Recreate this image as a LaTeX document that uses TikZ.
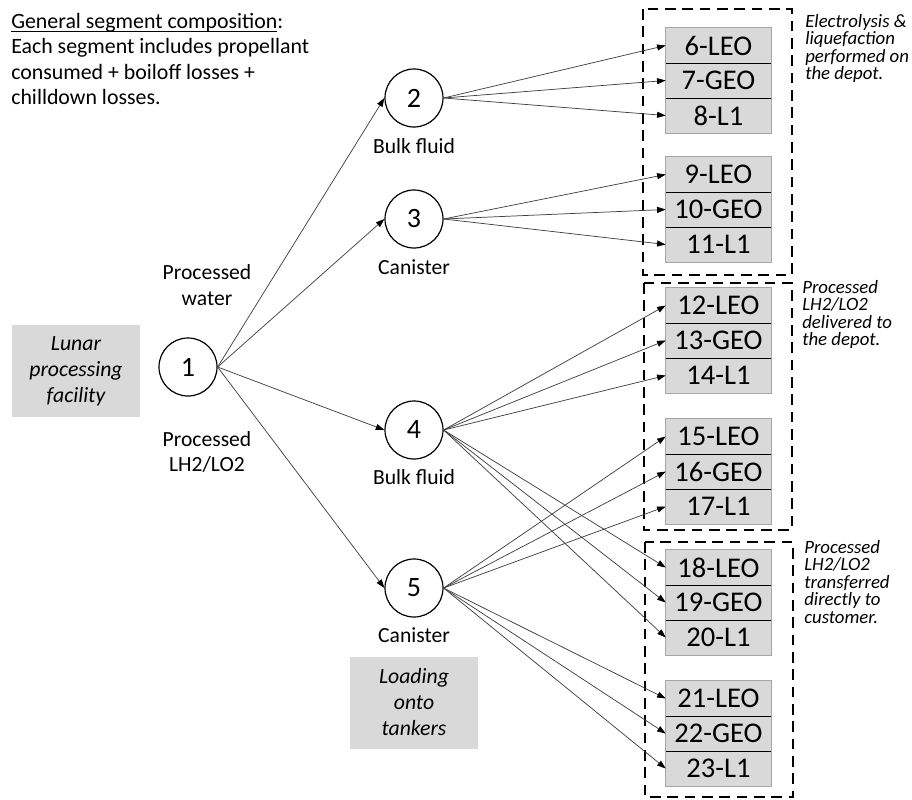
\documentclass[tikz,border=0pt]{standalone}
\usepackage{fontspec}
\setmainfont{Carlito}
\usepackage{tikz}
\usetikzlibrary{arrows.meta, positioning}

\definecolor{boxgray}{HTML}{D9D9D9}
\definecolor{segedge}{HTML}{A6A6A6}
\definecolor{flowgray}{HTML}{404040}

% underline close to the baseline
\newcommand{\segul}[1]{\setbox0\hbox{#1}\rlap{\vrule height -1.6pt depth 2.4pt width \wd0}\box0}

\begin{document}
\begin{tikzpicture}[x=0.75pt, y=-0.75pt,
  stage/.style={circle, draw=black, line width=0.9pt, minimum size=43.5pt, inner sep=0pt, font=\fontsize{21}{24}\selectfont},
  sublabel/.style={inner sep=0pt, font=\fontsize{16.2}{19.2}\selectfont},
  seg/.style={rectangle, fill=boxgray, minimum width=78.75pt, minimum height=26.25pt, inner sep=0pt, font=\fontsize{21.4}{24}\selectfont},
  segframe/.style={draw=segedge, line width=1.1pt},
  divider/.style={draw=black, line width=1.1pt},
  flow/.style={draw=flowgray, line width=0.55pt, -{Triangle[length=6.5pt,width=4.5pt,color=black]}},
  depot/.style={draw=black, line width=1.5pt, dash pattern=on 8pt off 5pt},
  sitebox/.style={rectangle, fill=boxgray, minimum width=96pt, minimum height=69pt, inner sep=0pt, align=center, font=\fontsize{16.3}{19.5}\selectfont\itshape},
  note/.style={anchor=north west, inner sep=0pt, align=left, font=\fontsize{14.1}{13.1}\selectfont\itshape}]
  \useasboundingbox (0,0) rectangle (912,799);

  % General note
  \node[anchor=north west, inner sep=0pt, align=left, font=\fontsize{16.4}{19}\selectfont] (general) at (11,13)
    {\segul{General segment composition}:\\Each segment includes propellant\\consumed + boiloff losses +\\chilldown losses.};

  % Sources
  \node[sitebox] (lunar) at (76,371) {Lunar\\processing\\facility};
  \node[sitebox] (tankers) at (414,702.5) {Loading\\onto\\tankers};

  % Stages
  \node[stage] (n1) at (188,367) {1};
  \node[stage] (n2) at (414,98) {2};
  \node[stage] (n3) at (414,219) {3};
  \node[stage] (n4) at (414,430) {4};
  \node[stage] (n5) at (414,588) {5};

  \node[sublabel, below=8pt of n2] (bulk2) {Bulk fluid};
  \node[sublabel, below=8pt of n3] (can3) {Canister};
  \node[sublabel, below=7.5pt of n4] (bulk4) {Bulk fluid};
  \node[sublabel, below=7.5pt of n5] (can5) {Canister};

  \node[sublabel, align=center] (water) at (207,285) {Processed\\water};
  \node[sublabel, align=center] (lhlo) at (207,452) {Processed\\LH2/LO2};

  % Destination segments
  \foreach \g/\gy in {0/28,1/157,2/288,3/419,4/550,5/681}{
    \foreach \k/\orb in {0/LEO,1/GEO,2/L1}{
      \pgfmathtruncatemacro{\num}{6+3*\g+\k}
      \node[seg] (s\num) at (718.5,\gy+17.5+35*\k) {\num-\orb};
    }
  }
  \foreach \a/\c in {6/8,9/11,12/14,15/17,18/20,21/23}
    \draw[segframe] (s\a.north west) rectangle (s\c.south east);
  \foreach \n in {6,7,9,10,12,13,15,16,18,19,21,22}
    \draw[divider] (s\n.south west) -- (s\n.south east);

  % Depot groupings
  \draw[depot] (643,9) rectangle (792,275);
  \draw[depot] (644,283) rectangle (792,530);
  \draw[depot] (645,542) rectangle (793,797);

  \node[note] (elec) at (805,14) {Electrolysis \&\\liquefaction\\performed on\\the depot.};
  \node[note] (deliv) at (802,280) {Processed\\LH2/LO2\\delivered to\\the depot.};
  \node[note] (direct) at (804,540) {Processed\\LH2/LO2\\transferred\\directly to\\customer.};

  % Flows
  \foreach \t in {2,3,4,5} \draw[flow] (n1.east) -- (n\t.west);
  \foreach \t in {6,7,8} \draw[flow] (n2.east) -- (s\t.west);
  \foreach \t in {9,10,11} \draw[flow] (n3.east) -- (s\t.west);
  \foreach \t in {12,13,14,18,19,20} \draw[flow] (n4.east) -- (s\t.west);
  \foreach \t in {15,16,17,21,22,23} \draw[flow] (n5.east) -- (s\t.west);
\end{tikzpicture}
\end{document}
